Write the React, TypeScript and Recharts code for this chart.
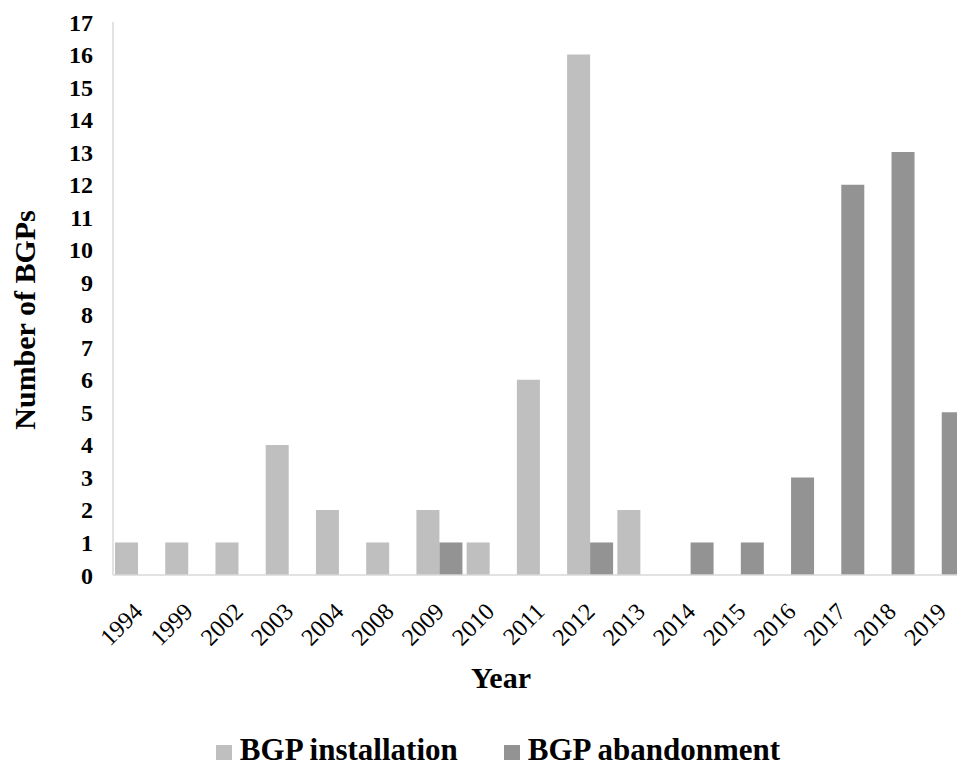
import { Bar, BarChart, Legend, XAxis, YAxis } from "recharts";

const years = [
  "1994", "1999", "2002", "2003", "2004", "2008", "2009", "2010", "2011",
  "2012", "2013", "2014", "2015", "2016", "2017", "2018", "2019",
];
const installation = [1, 1, 1, 4, 2, 1, 2, 1, 6, 16, 2, 0, 0, 0, 0, 0, 0];
const abandonment = [0, 0, 0, 0, 0, 0, 1, 0, 0, 1, 0, 1, 1, 3, 12, 13, 5];
const yTicks = [0, 1, 2, 3, 4, 5, 6, 7, 8, 9, 10, 11, 12, 13, 14, 15, 16, 17];

const series = [
  { key: "installation", name: "BGP installation", color: "#bfbfbf" },
  { key: "abandonment", name: "BGP abandonment", color: "#939393" },
];

const data = years.map((year, i) => ({
  year,
  installation: installation[i],
  abandonment: abandonment[i],
}));

const serif = "'Liberation Serif', 'Times New Roman', serif";

// libellés d'années inclinés à 45°, milieu du bord droit sur la graduation
function YearTick({ x, y, payload }: any) {
  return (
    <g transform={`translate(${x},${y})`}>
      <text
        transform="rotate(-45)"
        textAnchor="end"
        dy="0.35em"
        fontSize={24}
        fontFamily={serif}
        fill="#000"
      >
        {payload.value}
      </text>
    </g>
  );
}

function LegendContent() {
  return (
    <div
      style={{
        display: "flex",
        justifyContent: "center",
        alignItems: "baseline",
        gap: 46,
        fontFamily: serif,
        fontWeight: 700,
        fontSize: 31,
        lineHeight: 1,
        color: "#000",
      }}
    >
      {series.map((s) => (
        <span key={s.key} style={{ display: "inline-flex", alignItems: "baseline", gap: 8 }}>
          <span style={{ display: "inline-block", width: 16, height: 15, background: s.color }} />
          {s.name}
        </span>
      ))}
    </div>
  );
}

export default function App() {
  return (
    <div
      style={{
        position: "absolute",
        left: 0,
        top: 0,
        width: 957,
        height: 769,
        overflow: "hidden",
        background: "#fff",
      }}
    >
      <BarChart
        width={967}
        height={769}
        data={data}
        margin={{ top: 22, right: 0, left: 0, bottom: 0 }}
        barCategoryGap={2}
        barGap={0}
      >
        <XAxis
          dataKey="year"
          height={194}
          interval={0}
          tickSize={0}
          tickMargin={32}
          tick={<YearTick />}
          axisLine={{ stroke: "#d9d9d9", strokeWidth: 1.5 }}
          label={{
            content: () => (
              <text
                x={501}
                y={688}
                textAnchor="middle"
                fontFamily={serif}
                fontWeight={700}
                fontSize={30}
                fill="#000"
              >
                Year
              </text>
            ),
          }}
        />
        <YAxis
          width={113}
          domain={[0, 17]}
          ticks={yTicks}
          interval={0}
          tickSize={0}
          tickMargin={20}
          axisLine={{ stroke: "#d9d9d9", strokeWidth: 1.5 }}
          tick={{ fontSize: 24, fontWeight: 700, fontFamily: serif, fill: "#000" }}
          label={{
            content: () => (
              <text
                x={35}
                y={320}
                transform="rotate(-90, 35, 320)"
                textAnchor="middle"
                fontFamily={serif}
                fontWeight={700}
                fontSize={30}
                fill="#000"
              >
                Number of BGPs
              </text>
            ),
          }}
        />
        <Legend
          verticalAlign="middle"
          align="center"
          layout="horizontal"
          wrapperStyle={{ left: 0, top: 734, width: 996 }}
          content={<LegendContent />}
        />
        {series.map((s) => (
          <Bar
            key={s.key}
            dataKey={s.key}
            name={s.name}
            fill={s.color}
            isAnimationActive={false}
          />
        ))}
      </BarChart>
    </div>
  );
}
